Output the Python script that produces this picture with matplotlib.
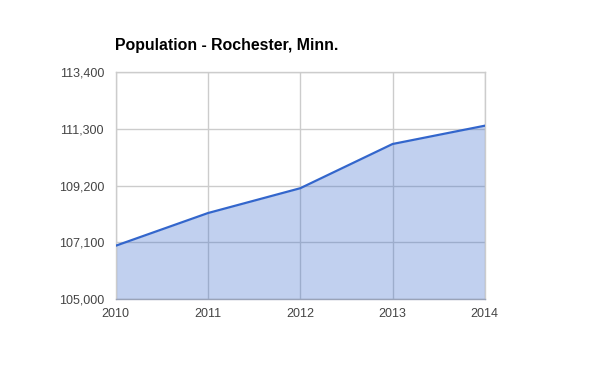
import matplotlib
matplotlib.use("Agg")
import matplotlib.pyplot as plt
from matplotlib.ticker import FuncFormatter

plt.rcParams['font.family'] = ['Liberation Sans', 'DejaVu Sans']

# Datos
years = [2010, 2011, 2012, 2013, 2014]
population = [106980, 108185, 109100, 110730, 111405]
y_ticks = [105000, 107100, 109200, 111300, 113400]

fig = plt.figure(figsize=(6, 3.71), dpi=100)
ax = fig.add_axes([0.193, 0.193, 0.615, 0.614])

ax.fill_between(years, population, y_ticks[0], color='#3366cc', alpha=0.3, linewidth=0, zorder=2)
ax.plot(years, population, color='#3366cc', linewidth=1.6, zorder=3)

ax.set_xlim(years[0], years[-1])
ax.set_ylim(y_ticks[0], y_ticks[-1])
ax.set_xticks(years)
ax.set_yticks(y_ticks)
ax.yaxis.set_major_formatter(FuncFormatter(lambda v, p: f"{int(v):,}"))

ax.grid(True, color='#cccccc', linewidth=1, zorder=1)
ax.set_axisbelow(True)
for side in ['top', 'right', 'left']:
    ax.spines[side].set_color('#cccccc')
    ax.spines[side].set_linewidth(1)
ax.spines['bottom'].set_color('#9aa3b8')
ax.spines['bottom'].set_linewidth(1)

ax.tick_params(length=0, labelsize=9, labelcolor='#444444')
ax.tick_params(axis='y', pad=8.5)
ax.tick_params(axis='x', pad=6)

fig.text(0.191, 0.877, 'Population - Rochester, Minn.', fontsize=11.4, fontweight='bold',
         color='#000000', ha='left', va='center')

fig.savefig('out.png', dpi=100)
